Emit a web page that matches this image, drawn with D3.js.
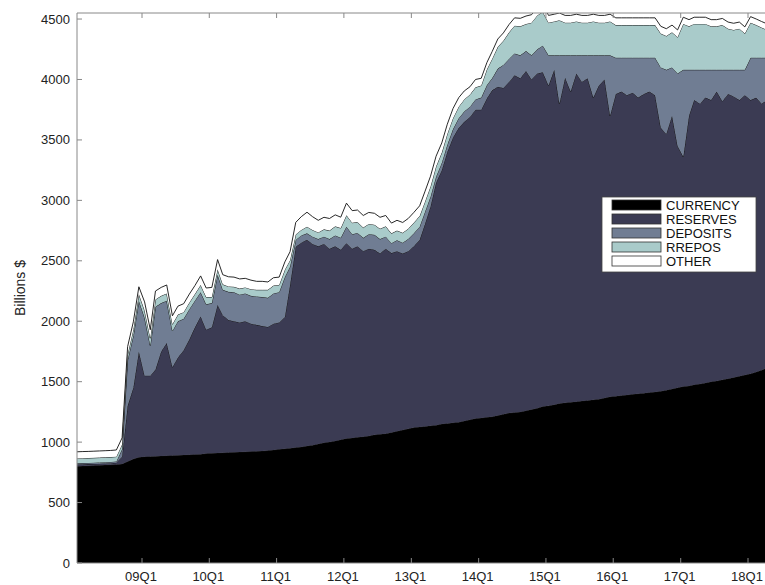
<!DOCTYPE html>
<html>
<head>
<meta charset="utf-8">
<script src="https://cdn.jsdelivr.net/npm/d3@7"></script>
<style>
body { margin: 0; background: #fff; }
text { font-family: "Liberation Sans", Arial, sans-serif; }
</style>
</head>
<body>
<script>
// monthly observations, Jan 2008 .. May 2018 (billions $)
const currency = [
	800,802,804,806,808,810,812,815,820,840,860,875,
	880,882,884,886,888,890,892,894,896,898,900,905,
	908,910,912,914,916,918,920,922,924,926,930,935,
	940,945,950,955,960,968,975,985,995,1000,1010,1020,
	1030,1035,1040,1045,1050,1060,1065,1070,1080,1090,1100,1110,
	1120,1125,1130,1135,1140,1150,1155,1160,1165,1175,1185,1195,
	1200,1205,1210,1220,1230,1240,1245,1250,1260,1270,1280,1295,
	1300,1310,1320,1325,1330,1335,1340,1345,1350,1355,1365,1375,
	1380,1385,1390,1395,1400,1405,1410,1415,1420,1430,1440,1450,
	1460,1465,1475,1480,1490,1500,1505,1515,1525,1535,1545,1555,
	1565,1580,1595,1615,1635
];
const reserves = [
	15,15,14,14,14,14,14,15,60,460,590,875,
	670,668,716,864,932,730,808,866,954,1052,1140,1025,
	1042,1225,1138,1096,1084,1072,1080,1058,1046,1034,1023,1045,
	1050,1091,1350,1661,1690,1706,1665,1635,1645,1600,1610,1571,
	1616,1565,1580,1535,1550,1531,1495,1530,1484,1490,1460,1470,
	1500,1549,1670,1815,2005,2100,2245,2360,2435,2475,2505,2555,
	2550,2640,2700,2720,2700,2740,2790,2760,2810,2730,2770,2765,
	2650,2770,2480,2690,2570,2715,2640,2665,2500,2595,2635,2325,
	2500,2515,2480,2495,2450,2475,2490,2455,2180,2120,2260,2000,
	1900,2235,2355,2320,2360,2330,2395,2305,2355,2325,2285,2315,
	2265,2270,2205,2215,2115
];
const deposits = [
	10,10,10,10,10,10,10,10,60,380,430,420,
	480,250,520,400,350,300,300,260,250,220,200,210,
	200,250,210,233,240,230,230,230,235,240,241,250,
	250,330,150,57,60,53,60,60,60,80,90,100,
	136,120,110,110,120,124,120,100,82,90,90,100,
	108,108,100,80,50,60,60,70,80,85,85,85,
	100,110,100,150,190,190,180,190,165,200,200,220,
	250,120,400,185,300,150,220,190,350,250,200,500,
	300,280,310,290,330,300,280,310,500,530,400,600,
	720,380,250,280,230,250,180,260,200,220,250,210,
	350,330,380,350,420
];
const rrepos = [
	40,40,40,40,40,40,40,40,40,45,50,55,
	60,60,60,60,60,55,55,55,55,55,60,60,
	50,45,45,45,45,50,50,55,55,60,66,65,
	60,60,55,45,45,55,55,55,60,70,75,80,
	95,95,90,85,85,83,85,85,81,80,82,85,
	88,88,85,85,85,85,90,90,95,100,100,100,
	100,130,160,180,200,220,230,240,224,270,280,280,
	270,280,290,270,270,280,270,270,280,270,270,280,
	270,270,270,270,270,270,270,270,280,280,290,300,
	380,360,380,380,380,360,360,370,340,330,340,300,
	290,270,250,230,230
];
const other = [
	55,55,55,55,55,55,55,55,55,65,65,60,
	70,70,70,70,70,70,70,70,70,70,75,75,
	80,80,80,80,80,80,75,75,70,70,65,65,
	65,65,70,100,110,120,110,100,100,100,95,90,
	100,100,100,100,95,95,95,90,85,85,85,85,
	85,85,85,85,85,80,80,80,75,70,65,65,
	60,56,60,65,65,65,65,66,66,66,66,66,
	60,60,60,60,60,60,60,60,60,60,60,60,
	60,60,60,60,60,60,60,60,60,60,60,60,
	55,55,55,55,55,55,55,55,55,55,55,55,
	50,50,50,50,50
];
const seriesNames = ['CURRENCY', 'RESERVES', 'DEPOSITS', 'RREPOS', 'OTHER'];
const seriesColors = ['#000000', '#3b3b53', '#707d93', '#a9cbca', '#ffffff'];
const tickLabels = ['09Q1','10Q1','11Q1','12Q1','13Q1','14Q1','15Q1','16Q1','17Q1','18Q1'];
const yTicks = [0,500,1000,1500,2000,2500,3000,3500,4000,4500];

const W = 765, H = 585;
const margin = { left: 77, top: 13, bottom: 22 };
const plotBottom = H - margin.bottom;

const dates = currency.map((_, i) => new Date(2008, i, 15));
const columns = [currency, reserves, deposits, rrepos, other];
const table = dates.map((d, i) => {
	let row = { date: d };
	seriesNames.forEach((k, j) => { row[k] = columns[j][i]; });
	return row;
});

let x = d3.scaleTime()
	.domain([new Date(2009, 0, 1), new Date(2018, 0, 1)])
	.range([142, 748]);
let y = d3.scaleLinear().domain([0, 4550]).range([plotBottom, margin.top]);

let svg = d3.select('body').append('svg')
	.attr('width', W).attr('height', H);

svg.append('defs').append('clipPath').attr('id', 'clip')
	.append('rect').attr('x', margin.left).attr('y', margin.top)
	.attr('width', W - margin.left + 20).attr('height', plotBottom - margin.top);

let stack = d3.stack().keys(seriesNames)(table);
let area = d3.area()
	.x(d => x(d.data.date))
	.y0(d => y(d[0]))
	.y1(d => y(d[1]));
let topLine = d3.line()
	.x(d => x(d.data.date))
	.y(d => y(d[1]));

let g = svg.append('g').attr('clip-path', 'url(#clip)');
// extend the first point to the left edge
let firstDate = new Date(2007, 11, 1);
stack.forEach((s, i) => {
	let pts = [Object.assign([s[0][0], s[0][1]], { data: { date: firstDate } })].concat(s);
	g.append('path').attr('d', area(pts))
		.attr('fill', seriesColors[i]);
	g.append('path').attr('d', topLine(pts))
		.attr('fill', 'none').attr('stroke', '#111').attr('stroke-width', 0.9);
});

// frame
svg.append('path')
	.attr('d', `M${margin.left},${margin.top}H${W + 5}M${margin.left},${margin.top}V${plotBottom}H${W + 5}`)
	.attr('fill', 'none').attr('stroke', '#888').attr('stroke-width', 1);

// y axis, inward ticks
yTicks.forEach(v => {
	svg.append('line').attr('x1', margin.left).attr('x2', margin.left + 5)
		.attr('y1', y(v)).attr('y2', y(v)).attr('stroke', '#888');
	svg.append('text').attr('x', margin.left - 7).attr('y', y(v) + 4.5)
		.attr('text-anchor', 'end').attr('font-size', 13).attr('fill', '#222').text(v);
});

// x axis, quarter labels at each year start
tickLabels.forEach((t, i) => {
	let xp = x(new Date(2009 + i, 0, 1));
	svg.append('line').attr('x1', xp).attr('x2', xp)
		.attr('y1', plotBottom).attr('y2', plotBottom - 5).attr('stroke', '#888');
	svg.append('line').attr('x1', xp).attr('x2', xp)
		.attr('y1', margin.top).attr('y2', margin.top + 5).attr('stroke', '#888');
	svg.append('text').attr('x', xp - 1).attr('y', plotBottom + 18)
		.attr('text-anchor', 'middle').attr('font-size', 13).attr('fill', '#222').text(t);
});

svg.append('text')
	.attr('transform', `translate(25,${(margin.top + plotBottom) / 2}) rotate(-90)`)
	.attr('text-anchor', 'middle').attr('font-size', 14).attr('fill', '#222')
	.text('Billions $');

// legend
let lg = svg.append('g').attr('transform', 'translate(602,197)');
lg.append('rect').attr('width', 154).attr('height', 75)
	.attr('fill', '#fff').attr('stroke', '#444').attr('stroke-width', 0.8);
seriesNames.forEach((k, i) => {
	let yy = 8 + i * 14;
	lg.append('rect').attr('x', 10).attr('y', yy - 5).attr('width', 49).attr('height', 10)
		.attr('fill', seriesColors[i]).attr('stroke', '#333').attr('stroke-width', 0.8);
	lg.append('text').attr('x', 64).attr('y', yy + 4.5)
		.attr('font-size', 13).attr('fill', '#111').text(k);
});
</script>
</body>
</html>
